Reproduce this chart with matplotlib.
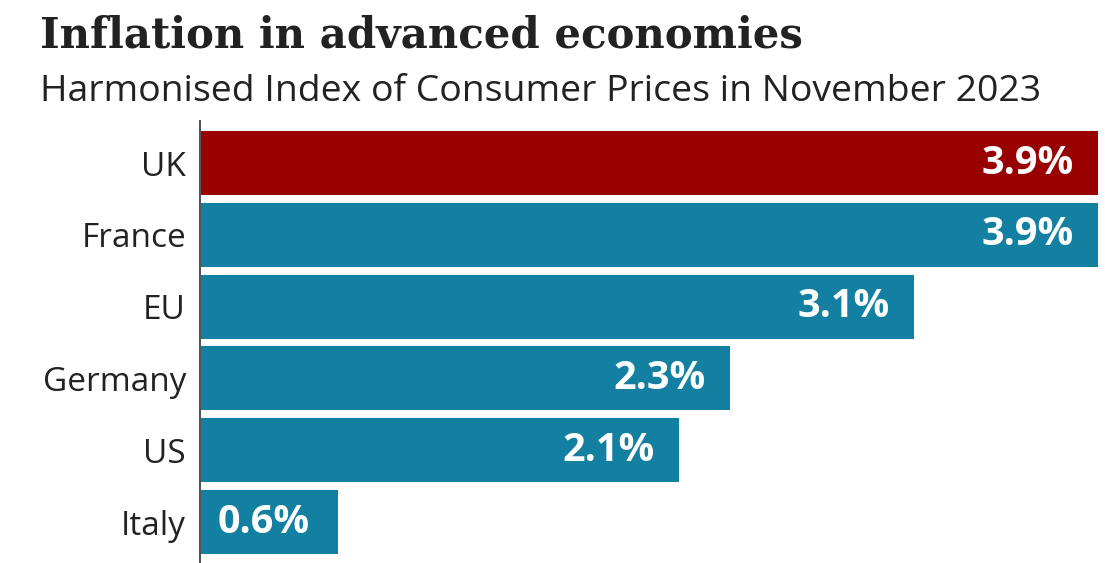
import matplotlib.pyplot as plt

countries = ['UK', 'France', 'EU', 'Germany', 'US', 'Italy']
inflation = [3.9, 3.9, 3.1, 2.3, 2.08, 0.6]
labels = ['3.9%', '3.9%', '3.1%', '2.3%', '2.1%', '0.6%']
colours = ['#990000', '#1380a1', '#1380a1', '#1380a1', '#1380a1', '#1380a1']

fig = plt.figure(figsize=(11.05, 5.63), dpi=100)
ax = fig.add_axes([200 / 1105, 0, 898 / 1105, 442 / 563])

pos = list(range(len(countries)))
ax.barh(pos, inflation, height=0.89, color=colours)
ax.set_xlim(0, 3.9)
ax.set_ylim(5.57, -0.585)

# value labels inside the bars
for p, v, lab in zip(pos, inflation, labels):
    if v > 1:
        ax.text(v - 0.105, p, lab, ha='right', va='center', color='white',
                fontsize=28.5, fontweight='bold', family='Open Sans')
    else:
        ax.text(0.075, p, lab, ha='left', va='center', color='white',
                fontsize=28.5, fontweight='bold', family='Open Sans')

ax.set_yticks(pos)
ax.set_yticklabels(countries, fontsize=24, color='#222222', family='Open Sans')
ax.tick_params(axis='y', length=0, pad=10)
ax.set_xticks([])
for s in ['top', 'right', 'bottom']:
    ax.spines[s].set_visible(False)
ax.spines['left'].set_color('#555555')
ax.spines['left'].set_linewidth(1.5)

fig.text(40 / 1105, 1 - 35 / 563, 'Inflation in advanced economies', fontsize=30.2,
         fontweight='bold', family='DejaVu Serif', color='#222222', va='center')
fig.text(40 / 1105, 1 - 92 / 563, 'Harmonised Index of Consumer Prices in November 2023',
         fontsize=26.9, family='Open Sans', color='#222222', va='center')

fig.savefig('out.png', dpi=100)
